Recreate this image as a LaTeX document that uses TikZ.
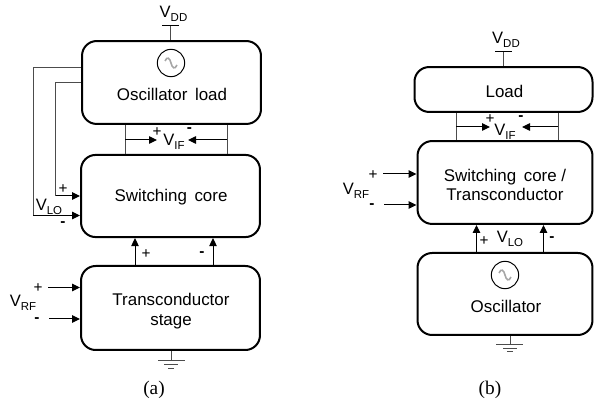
\documentclass[tikz,border=0pt]{standalone}
\usepackage{fontspec}
\setmainfont{Liberation Sans}
\newfontfamily\capfont{Liberation Serif}
\usetikzlibrary{arrows.meta}
\newcommand{\sbs}[1]{\raisebox{-0.24em}{\fontsize{8.6pt}{9pt}\selectfont #1}}
\tikzset{
  x=0.75pt,y=-0.75pt,
  blockbox/.style={draw=black,line width=1.5pt,rounded corners=11pt,inner sep=0pt},
  boxtext/.style={inner sep=0pt,align=center,font=\fontsize{12.7pt}{14.6pt}\selectfont},
  wire/.style={draw=black!70!white,line width=0.75pt},
  sig/.style={draw=black,line width=0.75pt,-{Triangle[length=6pt,width=5.6pt]}},
  lab/.style={inner sep=0pt,font=\fontsize{12.4pt}{14pt}\selectfont},
  plusm/.style={inner sep=0pt,font=\fontsize{11.5pt}{12pt}\selectfont},
  minusm/.style={inner sep=0pt,font=\bfseries\fontsize{11.5pt}{12pt}\selectfont},
  capt/.style={inner sep=0pt,font=\capfont\fontsize{14.5pt}{16pt}\selectfont},
  osc/.style={circle,draw=black,line width=0.75pt,minimum size=20.5pt,inner sep=0pt},
  squig/.style={draw=black!35,line width=1.2pt},
}
\begin{document}
\begin{tikzpicture}
\useasboundingbox (0,0) rectangle (594,403);
% ---------- (a)
\node[blockbox,minimum width=134.2pt,minimum height=62.2pt] (aload) at (171.5,82.5) {};
\node[boxtext] (aloadt) at (172,94) {Oscillator\ \,load};
\node[blockbox,minimum width=134.2pt,minimum height=61.6pt] (acore) at (170.5,196) {};
\node[boxtext] (acoret) at (171,197.5) {Switching\ \,core};
\node[blockbox,minimum width=134.2pt,minimum height=63pt] (agm) at (170.5,308) {};
\node[boxtext] (agmt) at (171,311) {Transconductor\\stage};
\node[osc] (aosc) at (171,63) {};
\draw[squig] (165,61) .. controls (167,56) and (170,58) .. (171,63) .. controls (172,68) and (175,70) .. (177,65);
% VDD
\coordinate (avdd) at (170.5,25.5);
\node[lab] (avddt) at (173.5,14) {V\sbs{DD}};
\draw[wire] (avdd) -- (avdd |- aload.north);
\coordinate (avl) at (162,25.5); \coordinate (avr) at (179,25.5);
\draw[draw=black,line width=0.75pt] (avl) -- (avr);
% LO wires
\coordinate (alo1a) at (aload.west |- 0,68); \coordinate (alo1b) at (33,68); \coordinate (alo1c) at (33,215.5);
\coordinate (alo2a) at (aload.west |- 0,83); \coordinate (alo2b) at (55.5,83); \coordinate (alo2c) at (55.5,196);
\draw[wire] (alo1a) -- (alo1b) -- (alo1c);
\draw[wire] (alo2a) -- (alo2b) -- (alo2c);
\draw[sig] (alo1c) -- (alo1c -| acore.west);
\draw[sig] (alo2c) -- (alo2c -| acore.west);
\node[plusm] (ap1) at (63,189) {+};
\node[minusm] (am1) at (63,224) {-};
\node[lab] (alot) at (49,207) {V\sbs{LO}};
% VIF
\coordinate (aifl) at (125,140); \coordinate (aifr) at (227,140);
\draw[wire] (aifl |- aload.south) -- (aifl |- acore.north);
\draw[wire] (aifr |- aload.south) -- (aifr |- acore.north);
\coordinate (aifa) at (157,140); \coordinate (aifb) at (188,140);
\draw[sig] (aifl) -- (aifa);
\draw[sig] (aifr) -- (aifb);
\node[plusm] (ap2) at (157,132) {+};
\node[minusm] (am2) at (189.5,130) {-};
\node[lab] (aift) at (174,142) {V\sbs{IF}};
% gm to core
\coordinate (au1) at (135,266); \coordinate (au2) at (213,266);
\draw[sig] (au1 |- agm.north) -- (au1 |- acore.south);
\draw[sig] (au2 |- agm.north) -- (au2 |- acore.south);
\node[plusm] (ap3) at (146,254) {+};
\node[minusm] (am3) at (202,254) {-};
% RF
\coordinate (arf1) at (48,287.5); \coordinate (arf2) at (49,319);
\draw[sig] (arf1) -- (arf1 -| agm.west);
\draw[sig] (arf2) -- (arf2 -| agm.west);
\node[plusm] (ap4) at (38,288) {+};
\node[minusm] (am4) at (37,320) {-};
\node[lab] (arft) at (23,303) {V\sbs{RF}};
% ground
\coordinate (ag0) at (171.5,361);
\draw[wire] (ag0 |- agm.south) -- (ag0);
\draw[wire] (158,361) -- (185,361);
\draw[wire] (164,365) -- (178,365);
\draw[wire] (168,369) -- (174,369);
\node[capt] (acap) at (154,390) {(a)};
% ---------- (b)
\node[blockbox,minimum width=133.5pt,minimum height=33.7pt] (bload) at (503.5,89.5) {};
\node[boxtext] (bloadt) at (504.5,91) {Load};
\node[blockbox,minimum width=131.2pt,minimum height=62.2pt] (bcore) at (505,182.5) {};
\node[boxtext] (bcoret) at (505,185) {Switching\ \,core /\\Transconductor};
\node[blockbox,minimum width=131.2pt,minimum height=61.5pt] (bosc) at (505,294) {};
\node[boxtext] (bosct) at (506,306.5) {Oscillator};
\node[osc] (bo) at (505,275) {};
\draw[squig] (499,273) .. controls (501,268) and (504,270) .. (505,275) .. controls (506,280) and (509,282) .. (511,277);
% VDD
\coordinate (bvdd) at (503.5,52);
\node[lab] (bvddt) at (506,40) {V\sbs{DD}};
\draw[wire] (bvdd) -- (bvdd |- bload.north);
\coordinate (bvl) at (495,52); \coordinate (bvr) at (512,52);
\draw[draw=black,line width=0.75pt] (bvl) -- (bvr);
% VIF
\coordinate (bifl) at (456,127); \coordinate (bifr) at (558,127);
\draw[wire] (bifl |- bload.south) -- (bifl |- bcore.north);
\draw[wire] (bifr |- bload.south) -- (bifr |- bcore.north);
\coordinate (bifa) at (490,127); \coordinate (bifb) at (522,127);
\draw[sig] (bifl) -- (bifa);
\draw[sig] (bifr) -- (bifb);
\node[plusm] (bp2) at (490,119) {+};
\node[minusm] (bm2) at (521,118) {-};
\node[lab] (bift) at (505,132) {V\sbs{IF}};
% RF
\coordinate (brf1) at (383,174); \coordinate (brf2) at (384,205);
\draw[sig] (brf1) -- (brf1 -| bcore.west);
\draw[sig] (brf2) -- (brf2 -| bcore.west);
\node[plusm] (bp4) at (373,175) {+};
\node[minusm] (bm4) at (372,206) {-};
\node[lab] (brft) at (356,191) {V\sbs{RF}};
% LO
\coordinate (bu1) at (476.5,253); \coordinate (bu2) at (543.5,253);
\draw[sig] (bu1 |- bosc.north) -- (bu1 |- bcore.south);
\draw[sig] (bu2 |- bosc.north) -- (bu2 |- bcore.south);
\node[plusm] (bp3) at (484,241) {+};
\node[lab] (blot) at (510,239) {V\sbs{LO}};
\node[minusm] (bm3) at (552,239) {-};
% ground
\coordinate (bg0) at (510,345);
\draw[wire] (bg0 |- bosc.south) -- (bg0);
\draw[wire] (496,345) -- (523,345);
\draw[wire] (503,349) -- (517,349);
\draw[wire] (507,352) -- (513,352);
\node[capt] (bcap) at (490,390) {(b)};
\end{tikzpicture}
\end{document}
